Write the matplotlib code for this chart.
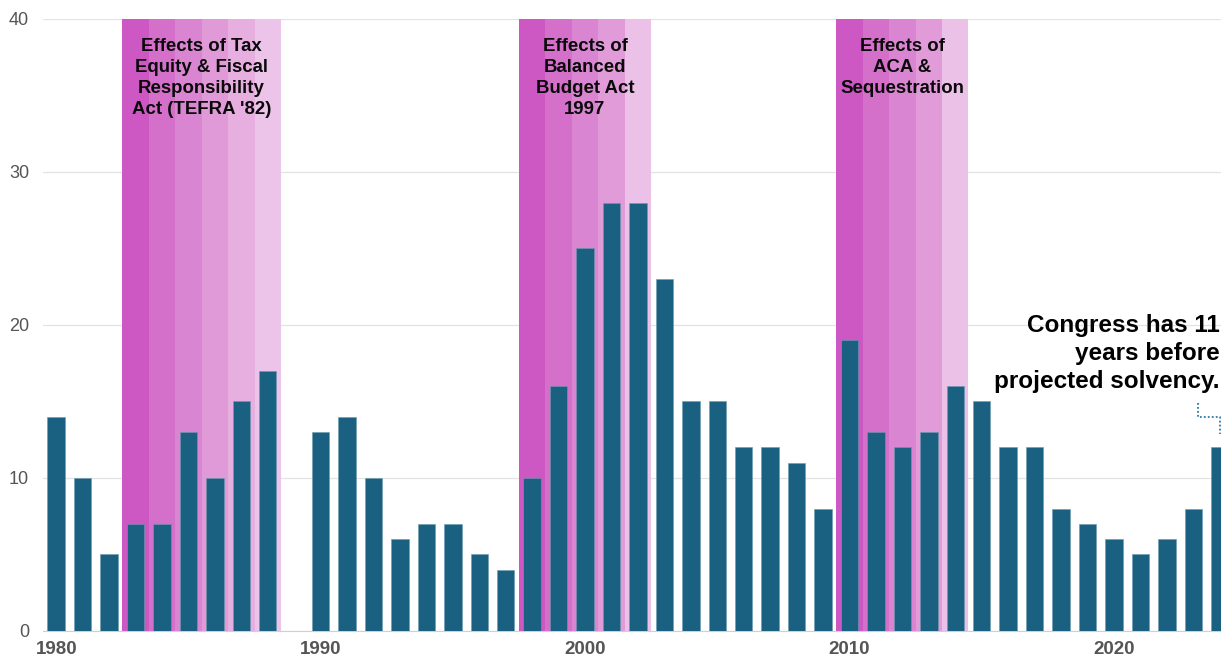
import matplotlib
matplotlib.use("Agg")
from matplotlib import pyplot as plt

# yearly counts (no figure reported for 1989)
years = [1980, 1981, 1982, 1983, 1984, 1985, 1986, 1987, 1988,
         1990, 1991, 1992, 1993, 1994, 1995, 1996, 1997, 1998, 1999,
         2000, 2001, 2002, 2003, 2004, 2005, 2006, 2007, 2008, 2009,
         2010, 2011, 2012, 2013, 2014, 2015, 2016, 2017, 2018, 2019,
         2020, 2021, 2022, 2023, 2024]
values = [14, 10, 5, 7, 7, 13, 10, 15, 17,
          13, 14, 10, 6, 7, 7, 5, 4, 10, 16,
          25, 28, 28, 23, 15, 15, 12, 12, 11, 8,
          19, 13, 12, 13, 16, 15, 12, 12, 8, 7,
          6, 5, 6, 8, 12]

# policy windows: (first year, last year, label)
periods = [
    (1983, 1988, "Effects of Tax\nEquity & Fiscal\nResponsibility\nAct (TEFRA '82)"),
    (1998, 2002, "Effects of\nBalanced\nBudget Act\n1997"),
    (2010, 2014, "Effects of\nACA &\nSequestration"),
]
fade6 = ["#cd57c3", "#d46fca", "#da85d1", "#e09ad8", "#e6afdf", "#ecc3e9"]
fade5 = ["#cd57c3", "#d46fca", "#da85d1", "#e19bd8", "#ecc1e8"]

bar_color = "#1a6080"
font = "Liberation Sans"

fig = plt.figure(figsize=(12.21, 6.59), dpi=100)
ax = fig.add_axes([0.0352, 0.0425, 0.9648, 0.9287])

for start, end, label in periods:
    n = end - start + 1
    shades = fade6 if n == 6 else fade5
    for i in range(n):
        ax.axvspan(start + i - 0.5, start + i + 0.5, color=shades[i], lw=0, zorder=1)
    ax.text((start + end) / 2, 38.75, label, ha="center", va="top",
            fontsize=13.4, fontweight="bold", family=font, linespacing=1.3,
            color="#0a0a0a", zorder=4)

ax.bar(years, values, width=0.66, color=bar_color, edgecolor="#6f9bb0",
       linewidth=0.4, zorder=3)

# callout for the latest year
ax.text(2024.0, 20.7, "Congress has 11\nyears before\nprojected solvency.",
        ha="right", va="top", fontsize=17.5, fontweight="bold", family=font,
        linespacing=1.27, color="black", zorder=5)
ax.plot([2023.17, 2023.17, 2024.0, 2024.0], [14.9, 14.0, 14.0, 12.9],
        ls=(0, (1, 1.2)), color="#2f78a8", lw=1.3, zorder=5, clip_on=False)

ax.set_xlim(1979.5, 2024.05)
ax.set_ylim(0, 40)
ax.set_yticks([0, 10, 20, 30, 40])
ax.set_xticks([1980, 1990, 2000, 2010, 2020])
ax.grid(axis="y", color="#e3e3e3", lw=0.9, zorder=0)
ax.set_axisbelow(True)
for side in ["top", "right", "left"]:
    ax.spines[side].set_visible(False)
ax.spines["bottom"].set_color("#d0d0d0")
ax.tick_params(axis="both", length=0)
ax.tick_params(axis="y", pad=10, labelsize=13, labelcolor="#555555")
ax.tick_params(axis="x", pad=7, labelsize=13.5, labelcolor="#555555")
for t in ax.get_yticklabels():
    t.set_family(font)
for t in ax.get_xticklabels():
    t.set_family(font)
    t.set_fontweight("bold")

fig.savefig("out.png", dpi=100)
